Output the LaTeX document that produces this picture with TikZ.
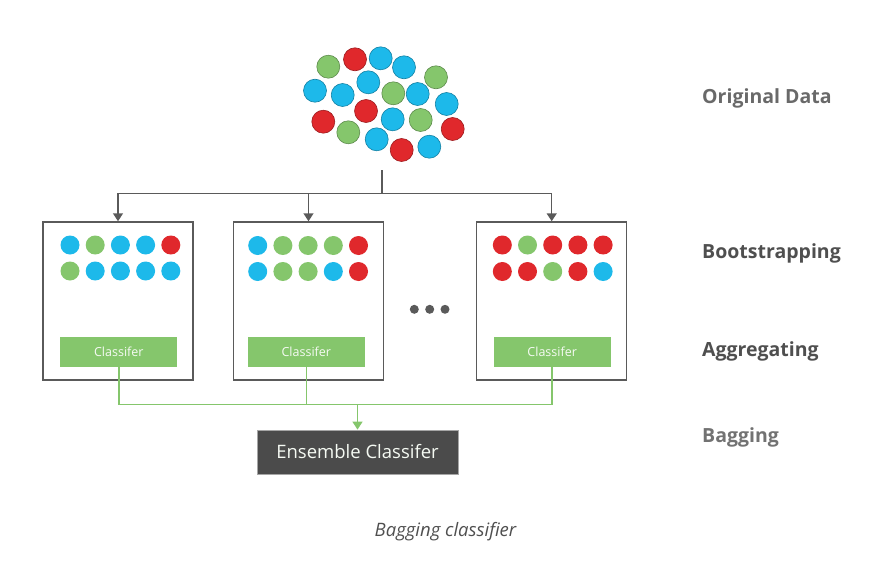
\documentclass[tikz,border=0pt]{standalone}
\usepackage{fontspec}
\setmainfont{Open Sans}
\usepackage{tikz}
\usetikzlibrary{arrows.meta}
\definecolor{dred}{HTML}{E0282C}
\definecolor{dblue}{HTML}{1DB9EA}
\definecolor{dgreen}{HTML}{85C66C}
\definecolor{lgrey}{HTML}{5A5A5A}
\definecolor{tgrey}{HTML}{4F4F4F}
\definecolor{egrey}{HTML}{4B4B4B}
\newcommand{\ball}[3]{\fill[#3] (#1,#2) circle (9.5pt);}
\newcommand{\ballrow}[7]{ \ball{#1}{#2}{#3} \ball{#1+25.2}{#2}{#4} \ball{#1+50.4}{#2}{#5} \ball{#1+75.6}{#2}{#6} \ball{#1+100.8}{#2}{#7}}
\newcommand{\dball}[3]{\draw[fill=#3, draw=#3!70!black, line width=0.6pt] (#1,#2) circle (11.5pt);}
\tikzset{
  bagbox/.style={draw=lgrey, line width=1.5pt, fill=white, minimum width=150pt, minimum height=158pt, inner sep=0pt},
  clf/.style={fill=dgreen, text=white!92!dgreen, minimum width=117pt, minimum height=29.5pt, inner sep=0pt, font=\fontsize{12.5}{14}\selectfont},
  ensbox/.style={fill=egrey, draw=gray!70, line width=0.8pt, text=white!92!dgreen, minimum width=201pt, minimum height=44pt, inner sep=0pt, font=\fontsize{18.5}{22}\selectfont},
  stage/.style={anchor=west, inner sep=0pt, text=tgrey, font=\fontsize{19.5}{23}\selectfont\bfseries},
  greyline/.style={draw=lgrey, line width=1.5pt},
  greenline/.style={draw=dgreen, line width=1.5pt},
  tip/.style={-{Triangle[width=10pt,length=8pt]}}
}

\begin{document}
\begin{tikzpicture}[x=1pt,y=-1pt]
        \useasboundingbox (0,0) rectangle (874,567);
        % original data
        \dball{328.3}{66.7}{dgreen}
        \dball{355}{59.3}{dred}
        \dball{380.7}{58.3}{dblue}
        \dball{404}{67.3}{dblue}
        \dball{436}{77.3}{dgreen}
        \dball{315}{90.7}{dblue}
        \dball{342.7}{95}{dblue}
        \dball{368.3}{82.3}{dblue}
        \dball{393.3}{93.3}{dgreen}
        \dball{417.7}{94}{dblue}
        \dball{446.7}{104}{dblue}
        \dball{366}{111}{dred}
        \dball{392.7}{119.3}{dblue}
        \dball{420.7}{120}{dgreen}
        \dball{323.3}{121.7}{dred}
        \dball{348.3}{132.3}{dgreen}
        \dball{376.7}{139.3}{dblue}
        \dball{452.7}{129}{dred}
        \dball{401.7}{150}{dred}
        \dball{429.3}{146.7}{dblue}
        \coordinate (src) at (382,170);
        \coordinate (split) at (382,193.5);

        % bootstrap boxes
        \node[bagbox] (box1) at (118,301) {};
        \node[bagbox] (box2) at (308.5,301) {};
        \node[bagbox] (box3) at (551.7,301) {};
        % samples in box1
        \ballrow{70}{245}{dblue}{dgreen}{dblue}{dblue}{dred}
        \ballrow{70}{271}{dgreen}{dblue}{dblue}{dblue}{dblue}
        % samples in box2
        \ballrow{257.7}{245.5}{dblue}{dgreen}{dgreen}{dgreen}{dred}
        \ballrow{257.7}{271.5}{dblue}{dgreen}{dgreen}{dblue}{dred}
        % samples in box3
        \ballrow{502.3}{245}{dred}{dgreen}{dred}{dred}{dred}
        \ballrow{502.3}{271.5}{dred}{dred}{dgreen}{dred}{dblue}
        % classifiers
        \node[clf] (clf1) at (118.8,352) {Classifer};
        \node[clf] (clf2) at (306.3,352) {Classifer};
        \node[clf] (clf3) at (552.2,352) {Classifer};
        % more boxes
        \fill[lgrey] (414.3,309.3) circle (4.5pt);
        \fill[lgrey] (429.7,309.3) circle (4.5pt);
        \fill[lgrey] (445,309.3) circle (4.5pt);

        % ensemble
        \node[ensbox] (ens) at (357.5,452) {Ensemble Classifer};
        \coordinate (join) at (357.5,404.3);

        % connectors
        \draw[greyline] (src) -- (split);
        \draw[greyline, tip] (split) -| (box1.north);
        \draw[greyline, tip] (split) -| (box2.north);
        \draw[greyline, tip] (split) -| (box3.north);
        \draw[greenline] (clf1.south) |- (join);
        \draw[greenline] (clf3.south) |- (join);
        \draw[greenline] (clf2.south) -- (clf2.south |- join);
        \draw[greenline, tip] (join) -- (ens.north);

        % stages
        \node[stage, text=tgrey!85] (orig) at (702,98) {Original Data};
        \node[stage] (boot) at (702,253) {Bootstrapping};
        \node[stage] (aggr) at (702,351.5) {Aggregating};
        \node[stage, text=tgrey!80] (bagg) at (702,437) {Bagging};

        \node[text=tgrey, font=\fontsize{18.5}{22}\selectfont\itshape] (cap) at (445.5,531.7) {Bagging classifier};
    \end{tikzpicture}
\end{document}
